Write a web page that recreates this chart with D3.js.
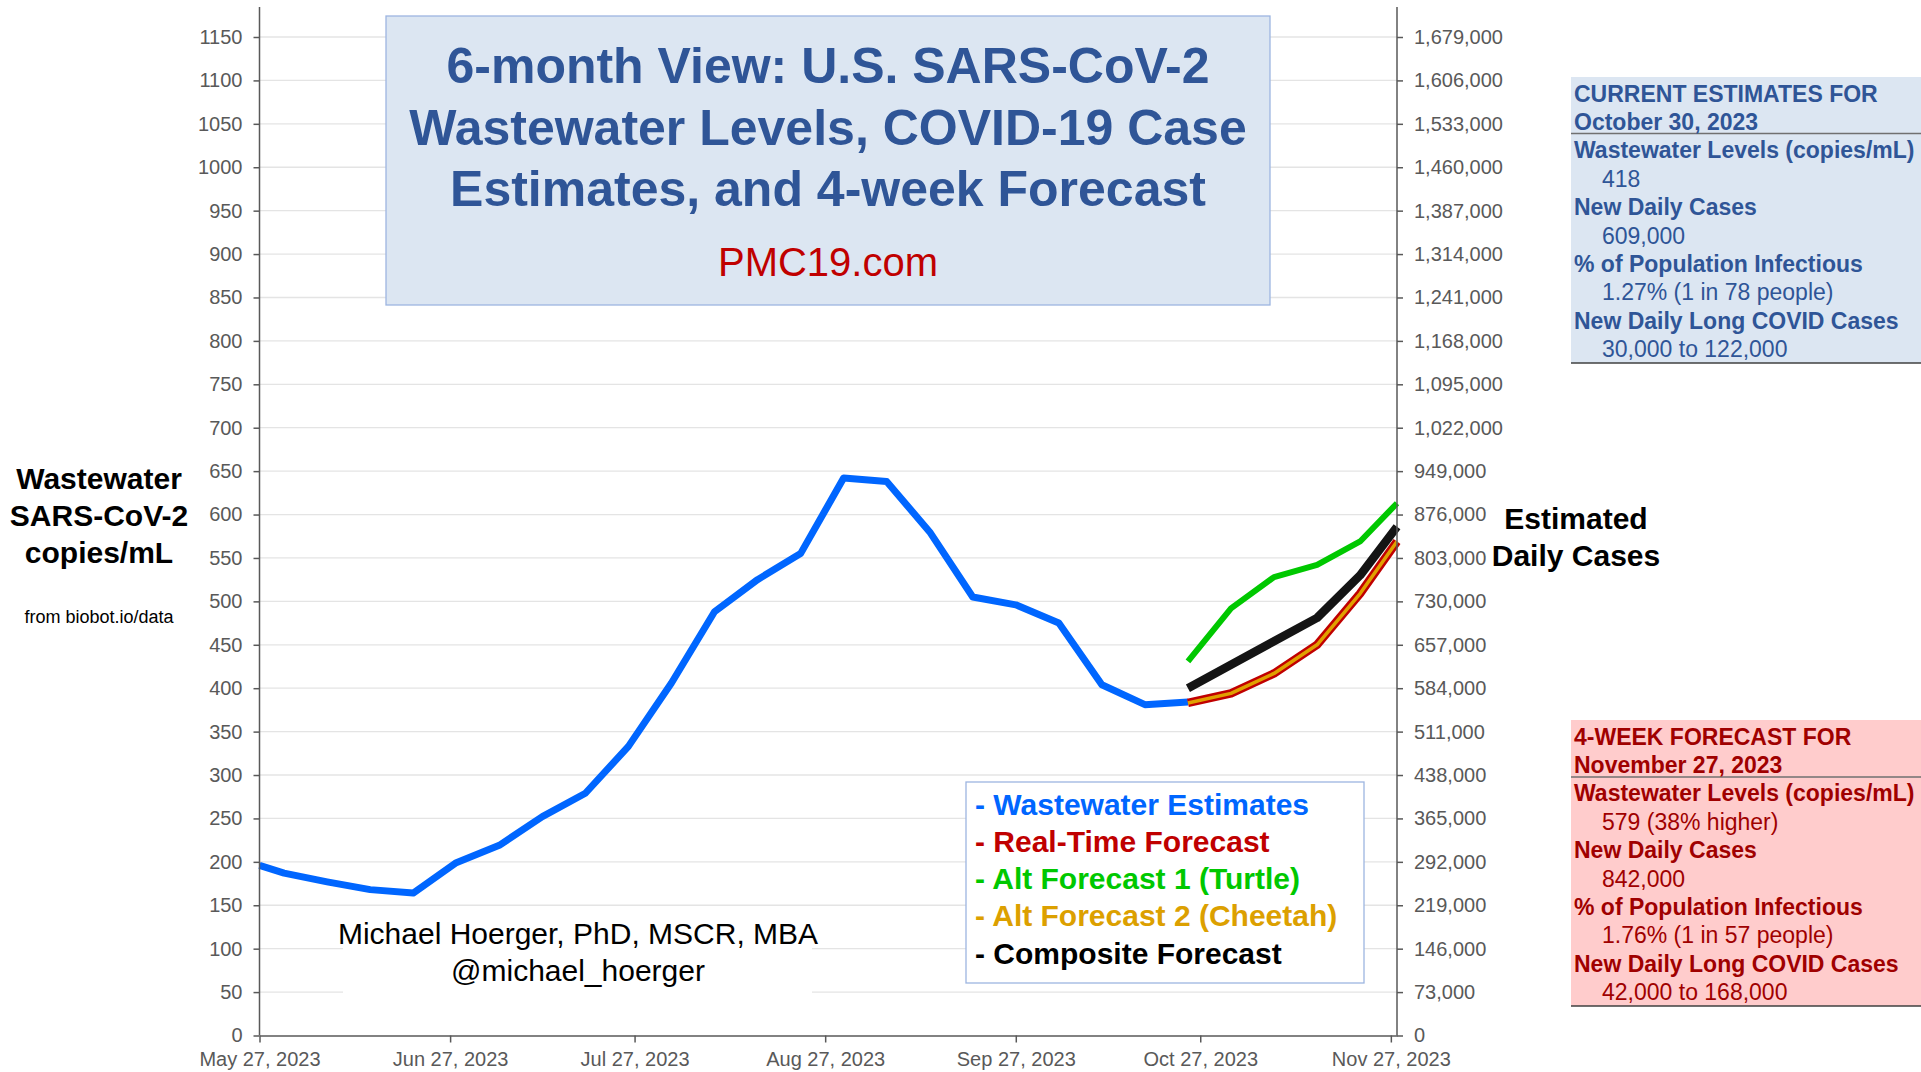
<!DOCTYPE html>
<html><head><meta charset="utf-8">
<script src="https://cdn.jsdelivr.net/npm/d3@7"></script>
<style>
html,body{margin:0;padding:0;background:#fff;}
svg{display:block;font-family:"Liberation Sans",Arial,Helvetica,sans-serif;}
</style></head>
<body>
<svg id="chart" width="1921" height="1072"></svg>
<script>
// ---------- DATA ----------
const xDomain = ["2023-05-27", "2023-11-28"];
const xTickDates = ["2023-05-27","2023-06-27","2023-07-27","2023-08-27","2023-09-27","2023-10-27","2023-11-27"];
const leftTicks = [0,50,100,150,200,250,300,350,400,450,500,550,600,650,700,750,800,850,900,950,1000,1050,1100,1150];
const rightTicks = [0,73000,146000,219000,292000,365000,438000,511000,584000,657000,730000,803000,876000,949000,1022000,1095000,1168000,1241000,1314000,1387000,1460000,1533000,1606000,1679000];

const wwDates = ["2023-05-27","2023-05-31","2023-06-07","2023-06-14","2023-06-21","2023-06-28","2023-07-05","2023-07-12","2023-07-19","2023-07-26","2023-08-02","2023-08-09","2023-08-16","2023-08-23","2023-08-30","2023-09-06","2023-09-13","2023-09-20","2023-09-27","2023-10-04","2023-10-11","2023-10-18","2023-10-25"];
const wwValues = [196,187,177,168,164,199,219,252,279,333,406,488,525,555,642,638,580,505,496,475,404,381,384];

const fcDates = ["2023-10-25","2023-11-01","2023-11-08","2023-11-15","2023-11-22","2023-11-28"];
const realTimeForecast = [383,394,417,450,509,569];
const turtleForecast   = [431,492,528,542,569,613];
const cheetahForecast  = [383,394,417,450,509,569];
const compositeForecast= [400,427,454,481,530,586];

const titleLines = ["6-month View: U.S. SARS-CoV-2","Wastewater Levels, COVID-19 Case","Estimates, and 4-week Forecast"];
const siteName = "PMC19.com";
const leftLabel = ["Wastewater","SARS-CoV-2","copies/mL"];
const leftSource = "from biobot.io/data";
const rightLabel = ["Estimated","Daily Cases"];
const authorLines = ["Michael Hoerger, PhD, MSCR, MBA","@michael_hoerger"];

const legendLabels = ["- Wastewater Estimates","- Real-Time Forecast","- Alt Forecast 1 (Turtle)","- Alt Forecast 2 (Cheetah)","- Composite Forecast"];
const legendColors = ["#0066ff","#c00000","#00c800","#dca000","#000000"];

const currentHeader = ["CURRENT ESTIMATES FOR","October 30, 2023"];
const currentRows = [["Wastewater Levels (copies/mL)","418"],["New Daily Cases","609,000"],["% of Population Infectious","1.27% (1 in 78 people)"],["New Daily Long COVID Cases","30,000 to 122,000"]];
const forecastHeader = ["4-WEEK FORECAST FOR","November 27, 2023"];
const forecastRows = [["Wastewater Levels (copies/mL)","579 (38% higher)"],["New Daily Cases","842,000"],["% of Population Infectious","1.76% (1 in 57 people)"],["New Daily Long COVID Cases","42,000 to 168,000"]];

// ---------- LAYOUT ----------
const svg = d3.select("#chart");
const parse = d3.timeParse("%Y-%m-%d");
const X0 = 259.5, X1 = 1397, Y0 = 1035.5, YTOP = 7;
const x = d3.scaleTime().domain(xDomain.map(parse)).range([X0, X1]);
const y = d3.scaleLinear().domain([0, 1150]).range([Y0, 37]);
const yR = d3.scaleLinear().domain([0, 1679000]).range([Y0, 37]);
const axisColor = "#595959";
const labelColor = "#595959";

// gridlines
svg.append("g").selectAll("line").data(leftTicks.filter(d => d > 0)).join("line")
  .attr("x1", X0).attr("x2", X1).attr("y1", d => y(d)).attr("y2", d => y(d))
  .attr("stroke", "#e4e4e4").attr("stroke-width", 1.3);

// white patch behind author text
svg.append("rect").attr("x", 343).attr("y", 912).attr("width", 469).attr("height", 88).attr("fill", "#fff");

// title box
svg.append("rect").attr("x", 386).attr("y", 16).attr("width", 884).attr("height", 289)
  .attr("fill", "#dce6f2").attr("stroke", "#9db5e0").attr("stroke-width", 1.3);
const titleY = [66, 127.5, 189];
svg.append("g").selectAll("text").data(titleLines).join("text")
  .attr("x", 828).attr("y", (d, i) => titleY[i]).attr("text-anchor", "middle").attr("dominant-baseline", "central")
  .attr("font-size", 50).attr("font-weight", "bold").attr("fill", "#2f5597").text(d => d);
svg.append("text").attr("x", 828).attr("y", 262).attr("text-anchor", "middle").attr("dominant-baseline", "central")
  .attr("font-size", 40).attr("fill", "#c00000").text(siteName);

// legend box
svg.append("rect").attr("x", 966).attr("y", 782).attr("width", 398).attr("height", 201)
  .attr("fill", "#fff").attr("stroke", "#9db5e0").attr("stroke-width", 1.3);
svg.append("g").selectAll("text").data(legendLabels).join("text")
  .attr("x", 975).attr("y", (d, i) => 804 + i * 37.3).attr("dominant-baseline", "central")
  .attr("font-size", 30).attr("font-weight", "bold").attr("fill", (d, i) => legendColors[i]).text(d => d);

// author
svg.append("g").selectAll("text").data(authorLines).join("text")
  .attr("x", 578).attr("y", (d, i) => 933.5 + i * 36.5).attr("text-anchor", "middle").attr("dominant-baseline", "central")
  .attr("font-size", 30).attr("fill", "#000").text(d => d);

// lines
const line = d3.line().x(d => x(d.date)).y(d => y(d.v));
const mk = (dates, vals) => dates.map((d, i) => ({date: parse(d), v: vals[i]}));
const g = svg.append("g").attr("fill", "none").attr("stroke-linejoin", "round").attr("stroke-linecap", "round");
g.append("path").datum(mk(wwDates, wwValues)).attr("d", line).attr("stroke", "#0066ff").attr("stroke-width", 7).attr("stroke-linecap", "butt");
g.append("path").datum(mk(fcDates, realTimeForecast)).attr("d", line).attr("stroke", "#c00000").attr("stroke-width", 8.5).attr("stroke-linecap", "butt");
g.append("path").datum(mk(fcDates, cheetahForecast)).attr("d", line).attr("stroke", "#e0a000").attr("stroke-width", 3.5).attr("stroke-linecap", "butt");
g.append("path").datum(mk(fcDates, compositeForecast)).attr("d", line).attr("stroke", "#141414").attr("stroke-width", 8.5).attr("stroke-linecap", "butt");
g.append("path").datum(mk(fcDates, turtleForecast)).attr("d", line).attr("stroke", "#00c800").attr("stroke-width", 6).attr("stroke-linecap", "butt");

// axes
const styleAxis = sel => {
  sel.selectAll("line").attr("stroke", axisColor).attr("stroke-width", 1.5);
  sel.selectAll("path").attr("stroke", axisColor).attr("stroke-width", 1.5);
  sel.selectAll("text").attr("fill", labelColor).attr("font-size", 20).attr("font-family", "Liberation Sans, Arial, sans-serif");
};
const gl = svg.append("g").attr("transform", `translate(${X0},0)`)
  .call(d3.axisLeft(y).tickValues(leftTicks).tickSize(6).tickSizeOuter(0).tickPadding(11).tickFormat(d3.format("d")));
gl.select(".domain").remove();
styleAxis(gl);
svg.append("line").attr("x1", X0).attr("x2", X0).attr("y1", YTOP).attr("y2", Y0).attr("stroke", axisColor).attr("stroke-width", 1.5);

const gr = svg.append("g").attr("transform", `translate(${X1},0)`)
  .call(d3.axisRight(yR).tickValues(rightTicks).tickSize(6).tickSizeOuter(0).tickPadding(11).tickFormat(d3.format(",")));
gr.select(".domain").remove();
styleAxis(gr);
svg.append("line").attr("x1", X1).attr("x2", X1).attr("y1", YTOP).attr("y2", Y0).attr("stroke", axisColor).attr("stroke-width", 1.5);

const gx = svg.append("g").attr("transform", `translate(0,${Y0})`)
  .call(d3.axisBottom(x).tickValues(xTickDates.map(parse)).tickSize(7).tickSizeOuter(0).tickPadding(9).tickFormat(d3.timeFormat("%b %d, %Y")));
styleAxis(gx);

// axis titles
svg.append("g").selectAll("text").data(leftLabel).join("text")
  .attr("x", 99).attr("y", (d, i) => 478 + i * 37).attr("text-anchor", "middle").attr("dominant-baseline", "central")
  .attr("font-size", 30).attr("font-weight", "bold").attr("fill", "#000").text(d => d);
svg.append("text").attr("x", 99).attr("y", 617).attr("text-anchor", "middle").attr("dominant-baseline", "central")
  .attr("font-size", 18).attr("fill", "#000").text(leftSource);
svg.append("g").selectAll("text").data(rightLabel).join("text")
  .attr("x", 1576).attr("y", (d, i) => 518 + i * 37).attr("text-anchor", "middle").attr("dominant-baseline", "central")
  .attr("font-size", 30).attr("font-weight", "bold").attr("fill", "#000").text(d => d);

// info boxes
function infoBox(top, bottom, sepY, fill, color, header, rows) {
  const b = svg.append("g");
  b.append("rect").attr("x", 1571).attr("y", top).attr("width", 1921 - 1571).attr("height", bottom - top).attr("fill", fill);
  b.append("line").attr("x1", 1571).attr("x2", 1921).attr("y1", sepY).attr("y2", sepY).attr("stroke", "#707070").attr("stroke-width", 1.5);
  b.append("line").attr("x1", 1571).attr("x2", 1921).attr("y1", bottom).attr("y2", bottom).attr("stroke", "#404040").attr("stroke-width", 1.5);
  const items = [];
  header.forEach(h => items.push({t: h, bold: true, indent: false}));
  rows.forEach(r => { items.push({t: r[0], bold: true, indent: false}); items.push({t: r[1], bold: false, indent: true}); });
  b.selectAll("text").data(items).join("text")
    .attr("x", d => d.indent ? 1602 : 1574).attr("y", (d, i) => top + 16.5 + i * 28.4)
    .attr("dominant-baseline", "central").attr("font-size", 23)
    .attr("font-weight", d => d.bold ? "bold" : "normal").attr("fill", color).text(d => d.t);
}
infoBox(77, 363, 133.5, "#dce6f2", "#2f5597", currentHeader, currentRows);
infoBox(720, 1006, 777, "#ffcccc", "#a00000", forecastHeader, forecastRows);
</script>
</body></html>
